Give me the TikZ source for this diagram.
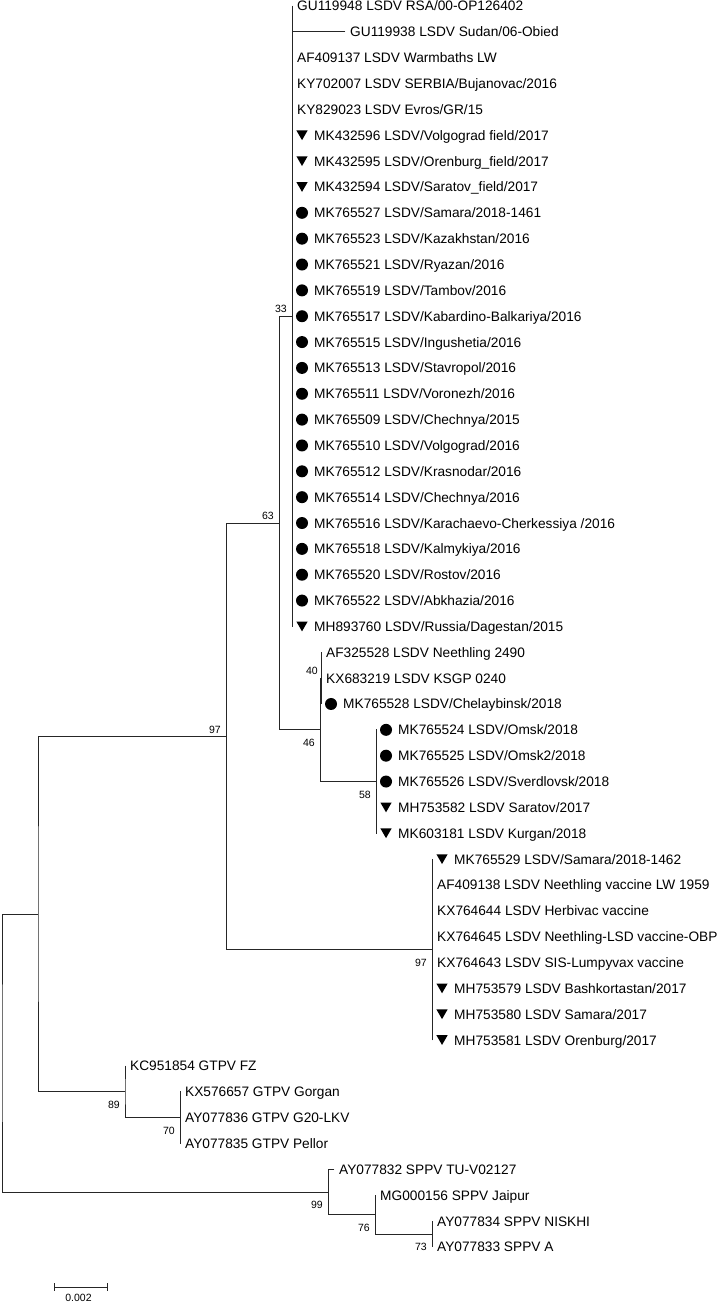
\documentclass[tikz,border=0pt]{standalone}
\usepackage{fontspec}
\setmainfont{Liberation Sans}
\usetikzlibrary{shapes.geometric}

\tikzset{
  branch/.style = {line width=0.8pt, draw=black!85, line cap=rect},
  leaf/.style = {anchor=base west, inner sep=0pt, xshift=5pt, yshift=-5pt,
                 font=\fontsize{13.7}{16}\selectfont},
  markleaf/.style = {leaf, xshift=17pt},
  dotmark/.style = {circle, fill=black, inner sep=0pt, minimum size=12pt, xshift=10pt},
  trimark/.style = {regular polygon, regular polygon sides=3, shape border rotate=180,
                    fill=black, inner sep=0pt, minimum size=13pt, xshift=10pt, yshift=1.6pt},
  boot/.style = {inner sep=0pt, font=\fontsize{10.5}{12}\selectfont},
  bootup/.style = {boot, anchor=south east, xshift=-5pt, yshift=3pt},
  bootdn/.style = {boot, anchor=north east, xshift=-5pt, yshift=-9pt},
}

\begin{document}
\begin{tikzpicture}[x=1pt, y=-25.85pt]
        \useasboundingbox (0,0.768) rectangle (718,51.21);

        % inner nodes
        \coordinate (root) at (2,41.5);
        \coordinate (nL) at (38,36.125);
        \coordinate (n97a) at (226,29.25);
        \coordinate (n63) at (279,21);
        \coordinate (n33) at (292,13);
        \coordinate (n46) at (320,29);
        \coordinate (n40) at (321,27);
        \coordinate (n58) at (376,31);
        \coordinate (nvac) at (432,37.5);
        \coordinate (n89) at (125,43);
        \coordinate (n70) at (180,44);
        \coordinate (n99) at (328,46.875);
        \coordinate (n76) at (375,47.75);
        \coordinate (n73) at (432,48.5);

        % LSDV field strains
        \coordinate (l1) at (292,1);  \node[leaf] (t1) at (l1) {GU119948 LSDV RSA/00-OP126402};
        \coordinate (l2) at (345,2);  \node[leaf] (t2) at (l2) {GU119938 LSDV Sudan/06-Obied};
        \coordinate (l3) at (292,3);  \node[leaf] (t3) at (l3) {AF409137 LSDV Warmbaths LW};
        \coordinate (l4) at (292,4);  \node[leaf] (t4) at (l4) {KY702007 LSDV SERBIA/Bujanovac/2016};
        \coordinate (l5) at (292,5);  \node[leaf] (t5) at (l5) {KY829023 LSDV Evros/GR/15};
        \coordinate (l6) at (292,6);  \node[trimark] (m6) at (l6) {};  \node[markleaf] (t6) at (l6) {MK432596 LSDV/Volgograd field/2017};
        \coordinate (l7) at (292,7);  \node[trimark] (m7) at (l7) {};  \node[markleaf] (t7) at (l7) {MK432595 LSDV/Orenburg\_field/2017};
        \coordinate (l8) at (292,8);  \node[trimark] (m8) at (l8) {};  \node[markleaf] (t8) at (l8) {MK432594 LSDV/Saratov\_field/2017};
        \coordinate (l9) at (292,9);  \node[dotmark] (m9) at (l9) {};  \node[markleaf] (t9) at (l9) {MK765527 LSDV/Samara/2018-1461};
        \coordinate (l10) at (292,10); \node[dotmark] (m10) at (l10) {}; \node[markleaf] (t10) at (l10) {MK765523 LSDV/Kazakhstan/2016};
        \coordinate (l11) at (292,11); \node[dotmark] (m11) at (l11) {}; \node[markleaf] (t11) at (l11) {MK765521 LSDV/Ryazan/2016};
        \coordinate (l12) at (292,12); \node[dotmark] (m12) at (l12) {}; \node[markleaf] (t12) at (l12) {MK765519 LSDV/Tambov/2016};
        \coordinate (l13) at (292,13); \node[dotmark] (m13) at (l13) {}; \node[markleaf] (t13) at (l13) {MK765517 LSDV/Kabardino-Balkariya/2016};
        \coordinate (l14) at (292,14); \node[dotmark] (m14) at (l14) {}; \node[markleaf] (t14) at (l14) {MK765515 LSDV/Ingushetia/2016};
        \coordinate (l15) at (292,15); \node[dotmark] (m15) at (l15) {}; \node[markleaf] (t15) at (l15) {MK765513 LSDV/Stavropol/2016};
        \coordinate (l16) at (292,16); \node[dotmark] (m16) at (l16) {}; \node[markleaf] (t16) at (l16) {MK765511 LSDV/Voronezh/2016};
        \coordinate (l17) at (292,17); \node[dotmark] (m17) at (l17) {}; \node[markleaf] (t17) at (l17) {MK765509 LSDV/Chechnya/2015};
        \coordinate (l18) at (292,18); \node[dotmark] (m18) at (l18) {}; \node[markleaf] (t18) at (l18) {MK765510 LSDV/Volgograd/2016};
        \coordinate (l19) at (292,19); \node[dotmark] (m19) at (l19) {}; \node[markleaf] (t19) at (l19) {MK765512 LSDV/Krasnodar/2016};
        \coordinate (l20) at (292,20); \node[dotmark] (m20) at (l20) {}; \node[markleaf] (t20) at (l20) {MK765514 LSDV/Chechnya/2016};
        \coordinate (l21) at (292,21); \node[dotmark] (m21) at (l21) {}; \node[markleaf] (t21) at (l21) {MK765516 LSDV/Karachaevo-Cherkessiya /2016};
        \coordinate (l22) at (292,22); \node[dotmark] (m22) at (l22) {}; \node[markleaf] (t22) at (l22) {MK765518 LSDV/Kalmykiya/2016};
        \coordinate (l23) at (292,23); \node[dotmark] (m23) at (l23) {}; \node[markleaf] (t23) at (l23) {MK765520 LSDV/Rostov/2016};
        \coordinate (l24) at (292,24); \node[dotmark] (m24) at (l24) {}; \node[markleaf] (t24) at (l24) {MK765522 LSDV/Abkhazia/2016};
        \coordinate (l25) at (292,25); \node[trimark] (m25) at (l25) {}; \node[markleaf] (t25) at (l25) {MH893760 LSDV/Russia/Dagestan/2015};

        % Neethling group
        \coordinate (l26) at (321,26); \node[leaf] (t26) at (l26) {AF325528 LSDV Neethling 2490};
        \coordinate (l27) at (321,27); \node[leaf] (t27) at (l27) {KX683219 LSDV KSGP 0240};
        \coordinate (l28) at (321,28); \node[dotmark] (m28) at (l28) {}; \node[markleaf] (t28) at (l28) {MK765528 LSDV/Chelaybinsk/2018};
        \coordinate (l29) at (376,29); \node[dotmark] (m29) at (l29) {}; \node[markleaf] (t29) at (l29) {MK765524 LSDV/Omsk/2018};
        \coordinate (l30) at (376,30); \node[dotmark] (m30) at (l30) {}; \node[markleaf] (t30) at (l30) {MK765525 LSDV/Omsk2/2018};
        \coordinate (l31) at (376,31); \node[dotmark] (m31) at (l31) {}; \node[markleaf] (t31) at (l31) {MK765526 LSDV/Sverdlovsk/2018};
        \coordinate (l32) at (376,32); \node[trimark] (m32) at (l32) {}; \node[markleaf] (t32) at (l32) {MH753582 LSDV Saratov/2017};
        \coordinate (l33) at (376,33); \node[trimark] (m33) at (l33) {}; \node[markleaf] (t33) at (l33) {MK603181 LSDV Kurgan/2018};

        % vaccine group
        \coordinate (l34) at (432,34); \node[trimark] (m34) at (l34) {}; \node[markleaf] (t34) at (l34) {MK765529 LSDV/Samara/2018-1462};
        \coordinate (l35) at (432,35); \node[leaf] (t35) at (l35) {AF409138 LSDV Neethling vaccine LW 1959};
        \coordinate (l36) at (432,36); \node[leaf] (t36) at (l36) {KX764644 LSDV Herbivac vaccine};
        \coordinate (l37) at (432,37); \node[leaf] (t37) at (l37) {KX764645 LSDV Neethling-LSD vaccine-OBP};
        \coordinate (l38) at (432,38); \node[leaf] (t38) at (l38) {KX764643 LSDV SIS-Lumpyvax vaccine};
        \coordinate (l39) at (432,39); \node[trimark] (m39) at (l39) {}; \node[markleaf] (t39) at (l39) {MH753579 LSDV Bashkortastan/2017};
        \coordinate (l40) at (432,40); \node[trimark] (m40) at (l40) {}; \node[markleaf] (t40) at (l40) {MH753580 LSDV Samara/2017};
        \coordinate (l41) at (432,41); \node[trimark] (m41) at (l41) {}; \node[markleaf] (t41) at (l41) {MH753581 LSDV Orenburg/2017};

        % GTPV and SPPV
        \coordinate (l42) at (125,42); \node[leaf] (t42) at (l42) {KC951854 GTPV FZ};
        \coordinate (l43) at (180,43); \node[leaf] (t43) at (l43) {KX576657 GTPV Gorgan};
        \coordinate (l44) at (180,44); \node[leaf] (t44) at (l44) {AY077836 GTPV G20-LKV};
        \coordinate (l45) at (180,45); \node[leaf] (t45) at (l45) {AY077835 GTPV Pellor};
        \coordinate (l46) at (334,46); \node[leaf] (t46) at (l46) {AY077832 SPPV TU-V02127};
        \coordinate (l47) at (375,47); \node[leaf] (t47) at (l47) {MG000156 SPPV Jaipur};
        \coordinate (l48) at (432,48); \node[leaf] (t48) at (l48) {AY077834 SPPV NISKHI};
        \coordinate (l49) at (432,49); \node[leaf] (t49) at (l49) {AY077833 SPPV A};

        % branches
        \draw[branch] (l1) -- (l25);
        \draw[branch] (n33 |- l2) -- (l2);
        \draw[branch] (n33) -| (n63) |- (n46);
        \draw[branch] (n63) -| (n97a) |- (nvac);
        \draw[branch] (n97a) -| (nL) |- (n89);
        \draw[branch] (nL) -| (root) |- (n99);
        \draw[branch] (n40) -| (n46) |- (n58);
        \draw[branch] (l26) -- (l28);
        \draw[branch] (l29) -- (l33);
        \draw[branch] (l34) -- (l41);
        \draw[branch] (l42) -| (n89) |- (n70);
        \draw[branch] (l43) -- (l45);
        \draw[branch] (l46) -| (n99) |- (n76);
        \draw[branch] (l47) -| (n76) |- (n73);
        \draw[branch] (l48) -- (l49);

        % bootstrap values
        \node[bootup] (b33) at (n33) {33};
        \node[bootup] (b63) at (n63) {63};
        \node[bootup] (b97a) at (n97a) {97};
        \node[bootup, xshift=2pt] (b40) at (n40) {40};
        \node[bootdn] (b46) at (n46) {46};
        \node[bootdn] (b58) at (n58) {58};
        \node[bootdn] (b97b) at (nvac) {97};
        \node[bootdn] (b89) at (n89) {89};
        \node[bootdn] (b70) at (n70) {70};
        \node[bootdn] (b99) at (n99) {99};
        \node[bootdn] (b76) at (n76) {76};
        \node[bootdn] (b73) at (n73) {73};

        % scale bar
        \coordinate (sb1) at (54,50.555);
        \coordinate (sb2) at (107,50.555);
        \draw[branch, line cap=butt] (sb1) -- (sb2);
        \draw[branch, line cap=butt] ([yshift=4pt]sb1) -- ([yshift=-4pt]sb1);
        \draw[branch, line cap=butt] ([yshift=4pt]sb2) -- ([yshift=-4pt]sb2);
        \path (sb1) -- node[boot, anchor=north, yshift=-7pt, xshift=-2pt] (sbl) {0.002} (sb2);
\end{tikzpicture}
\end{document}
